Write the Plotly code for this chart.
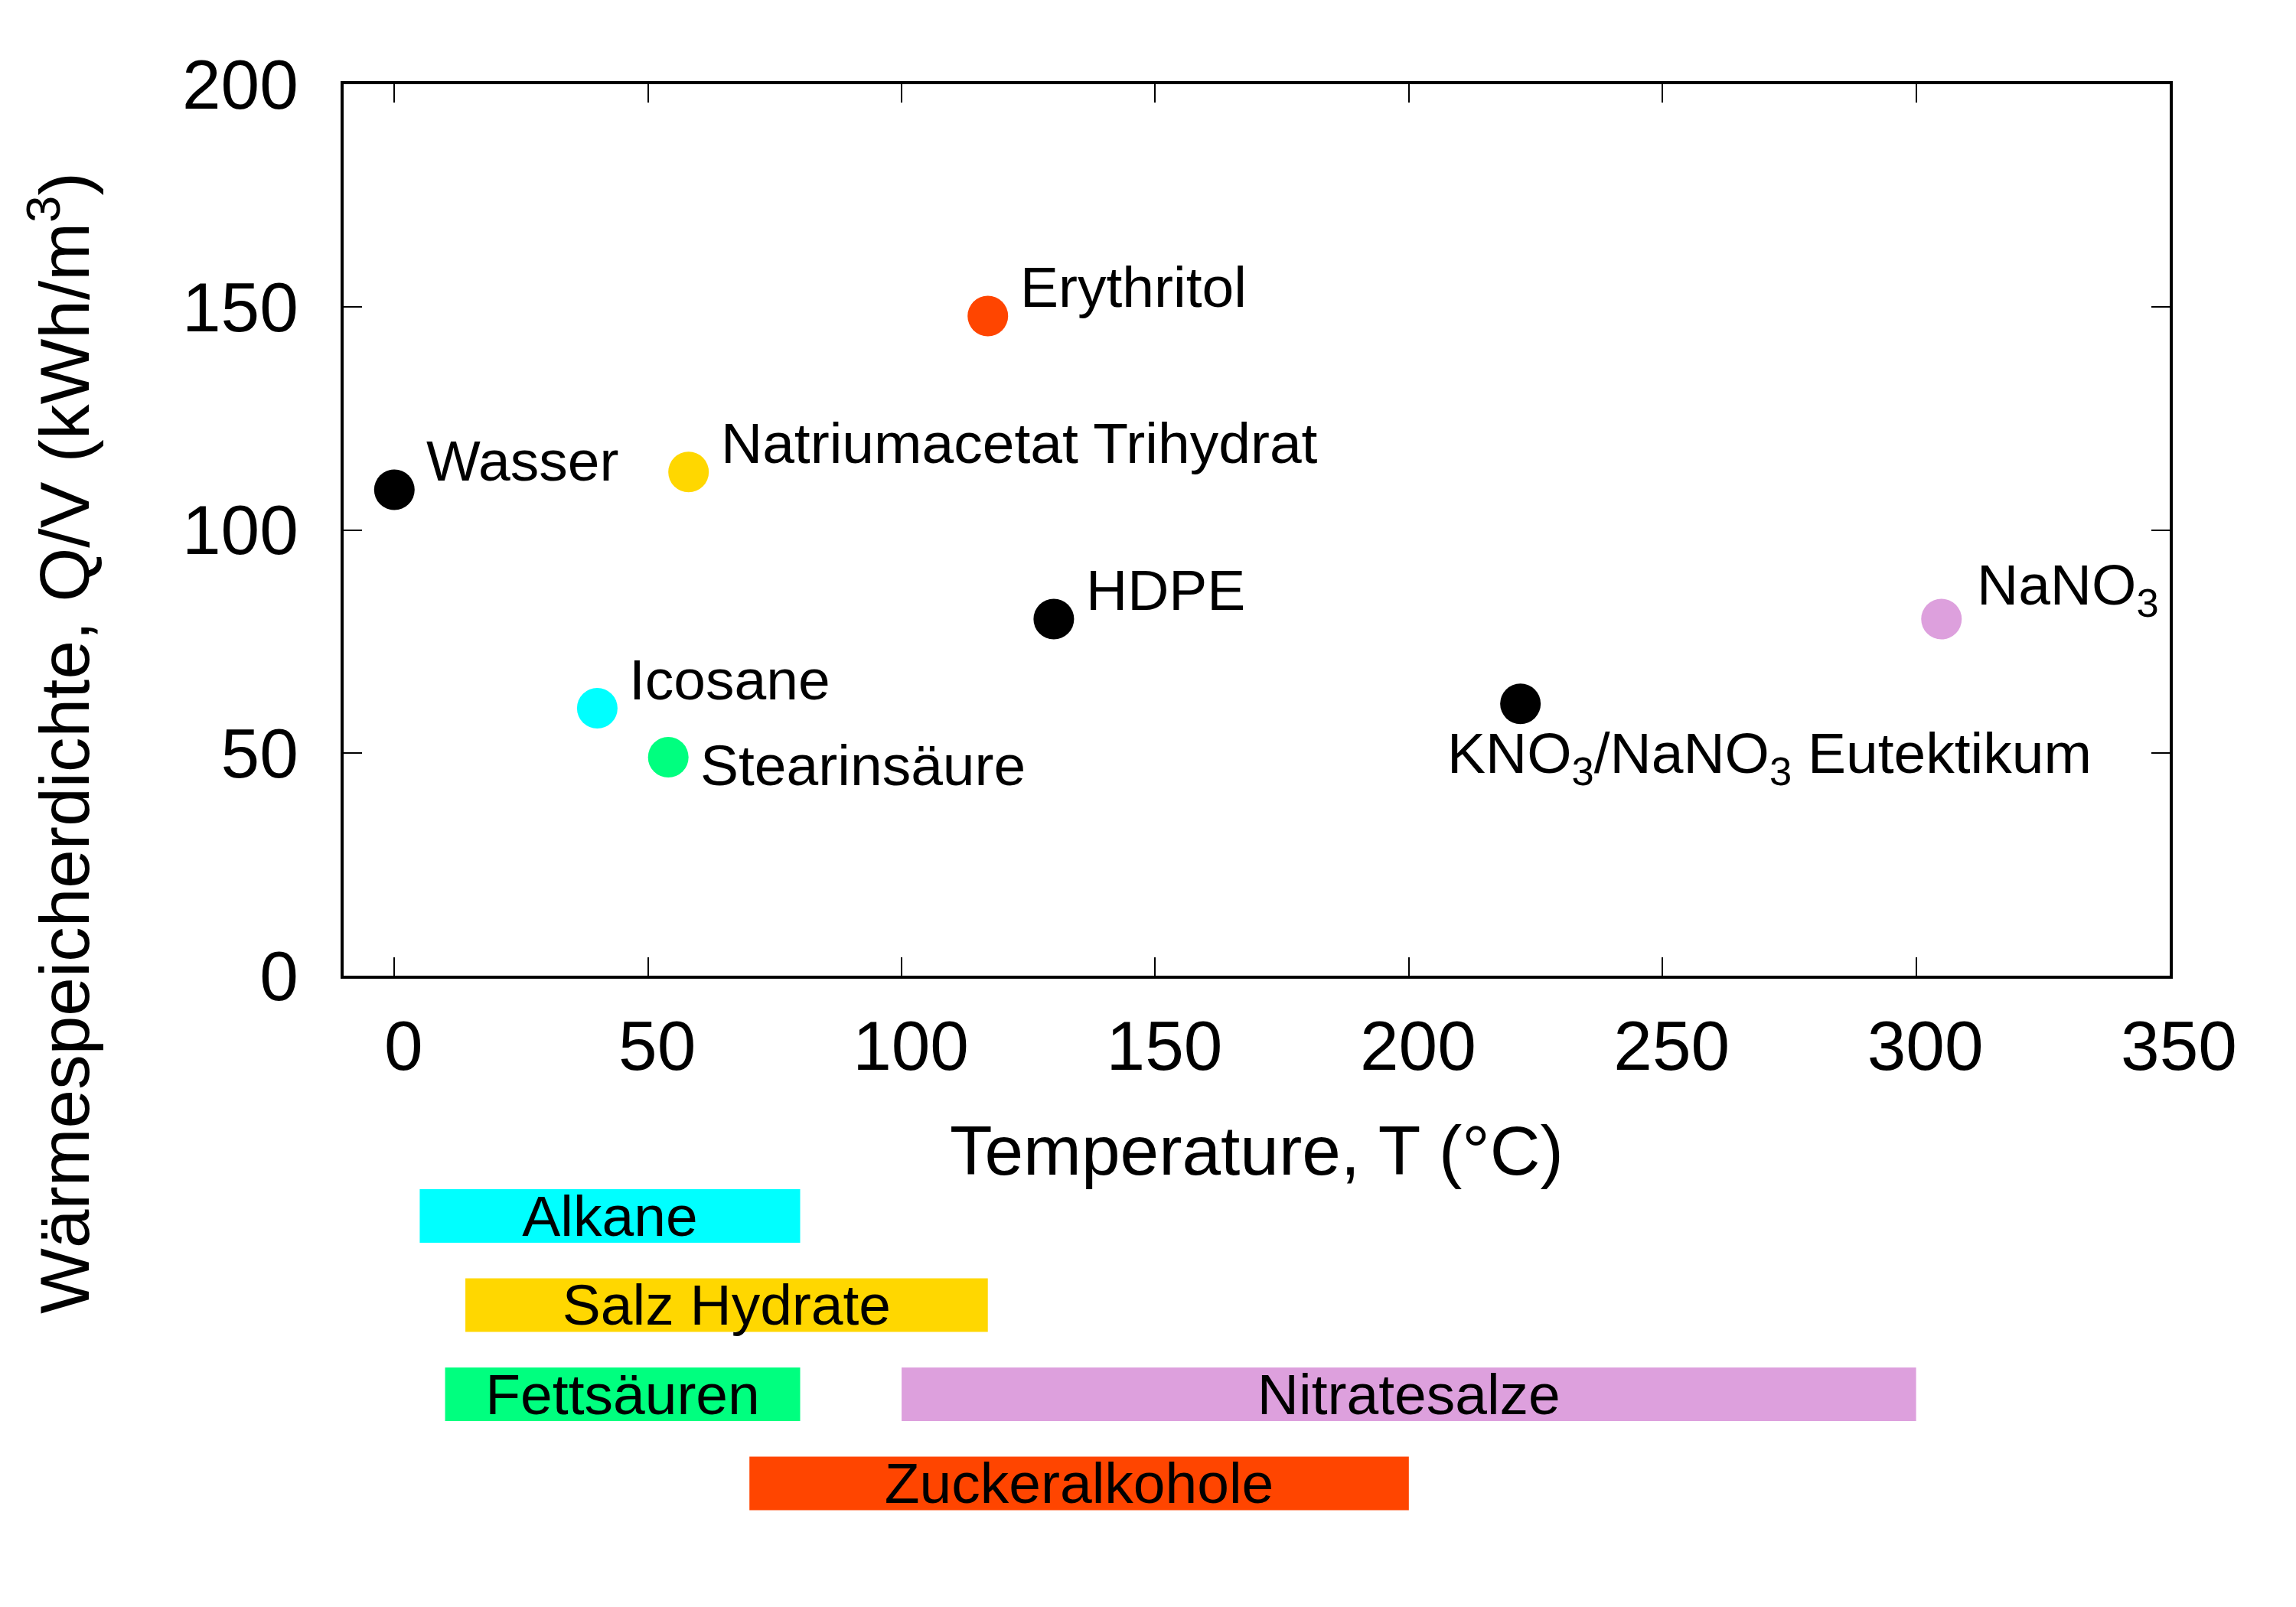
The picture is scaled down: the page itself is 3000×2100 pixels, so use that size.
import plotly.graph_objects as go

# ---------------- data ----------------
materials = [
    "Wasser",
    "Natriumacetat Trihydrat",
    "Erythritol",
    "HDPE",
    "Icosane",
    "Stearinsäure",
    "KNO<sub>3</sub>/NaNO<sub>3</sub> Eutektikum",
    "NaNO<sub>3</sub>",
]
temperature = [0, 58, 117, 130, 40, 54, 222, 305]
storage_density = [109, 113, 148, 80, 60, 49, 61, 80]
point_colors = ["#000000", "#FFD700", "#FF4500", "#000000",
                "#00FFFF", "#00FF7F", "#000000", "#DDA0DD"]

classes = ["Alkane", "Salz Hydrate", "Fettsäuren", "Nitratesalze", "Zuckeralkohole"]
class_start = [5, 14, 10, 100, 70]
class_end = [80, 117, 80, 300, 200]
class_row = [0, 1, 2, 2, 3]
class_colors = ["#00FFFF", "#FFD700", "#00FF7F", "#DDA0DD", "#FF4500"]

x_ticks = [0, 50, 100, 150, 200, 250, 300, 350]
y_ticks = [0, 50, 100, 150, 200]

# ---------------- styling ----------------
FONT = "Liberation Sans, Arial, Helvetica, sans-serif"
TICK_SIZE = 91
TITLE_SIZE = 91
LABEL_SIZE = 75
# label offsets in pixels (xshift, yshift) relative to each point
label_offsets = [(40, 38), (40, 38), (40, 38), (40, 38),
                 (40, 38), (40, -10), (-98, -70), (44, 40)]

W, H = 3000, 2100
OFF = 8  # page body margin
# target page-pixel frame: left 449, right 2835, top 110, bottom 1275
ML = 449 - OFF
MR = W - (2835 - OFF)
MT = 110 - OFF
MB = H - (2000 - OFF)
plot_h = H - MT - MB
plot_w = W - ML - MR


def py(pix):
    """page pixel row -> paper y"""
    return (H - MB - (pix - OFF)) / plot_h


def px(pix):
    """page pixel column -> paper x"""
    return (pix - OFF - ML) / plot_w


fig = go.Figure()

fig.add_trace(go.Scatter(
    x=temperature, y=storage_density, mode="markers",
    marker=dict(size=53, color=point_colors, line=dict(width=0)),
    cliponaxis=False, showlegend=False, hoverinfo="skip",
))

fig.add_trace(go.Bar(
    orientation="h",
    y=class_row,
    base=class_start,
    x=[e - s for s, e in zip(class_start, class_end)],
    width=0.6,
    marker=dict(color=class_colors, line=dict(width=0)),
    text=classes,
    textposition="inside",
    insidetextanchor="middle",
    textangle=0,
    constraintext="none",
    textfont=dict(family=FONT, size=LABEL_SIZE, color="black"),
    xaxis="x", yaxis="y2",
    showlegend=False, hoverinfo="skip",
))

annotations = []
for name, xv, yv, (dx, dy) in zip(materials, temperature, storage_density, label_offsets):
    annotations.append(dict(
        x=xv, y=yv, xref="x", yref="y", text=name, showarrow=False,
        xanchor="left", yanchor="middle", xshift=dx, yshift=dy,
        font=dict(family=FONT, size=LABEL_SIZE, color="black"),
    ))

annotations.append(dict(
    x=0.5, y=py(1503), xref="paper", yref="paper",
    text="Temperature, T (°C)", showarrow=False,
    xanchor="center", yanchor="middle",
    font=dict(family=FONT, size=TITLE_SIZE, color="black"),
))
annotations.append(dict(
    x=px(77), y=py(971), xref="paper", yref="paper",
    text="Wärmespeicherdichte, Q/V (kWh/m<sup>3</sup>)", showarrow=False,
    textangle=-90, xanchor="center", yanchor="middle",
    font=dict(family=FONT, size=TITLE_SIZE, color="black"),
))

axis_common = dict(
    showline=True, linecolor="black", linewidth=4, mirror="ticks",
    ticks="inside", ticklen=24, tickwidth=2, tickcolor="black",
    showgrid=False, zeroline=False,
    tickfont=dict(family=FONT, size=TICK_SIZE, color="black"),
)

fig.update_layout(
    width=W, height=H,
    margin=dict(l=ML, r=MR, t=MT, b=MB),
    paper_bgcolor="white", plot_bgcolor="white",
    font=dict(family=FONT, color="black"),
    xaxis=dict(range=[-10, 350], tickvals=x_ticks, ticklabelstandoff=10,
               ticklabelshift=12,
               domain=[0, 1], anchor="y", **axis_common),
    yaxis=dict(range=[0, 200], tickvals=y_ticks, ticklabelstandoff=37,
               domain=[py(1275), 1], anchor="x", **axis_common),
    yaxis2=dict(domain=[0, py(1540)], range=[3.528, -0.4206],
                visible=False, anchor="x", showgrid=False, zeroline=False),
    annotations=annotations,
    showlegend=False,
)

fig.write_html("out.html")
